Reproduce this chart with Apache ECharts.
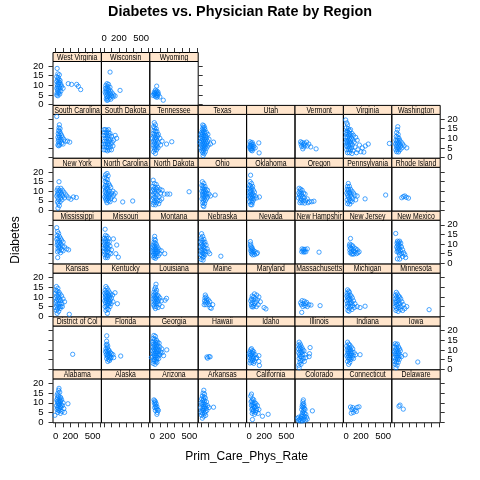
<!DOCTYPE html>
<html>
<head>
<meta charset="utf-8">
<title>Diabetes vs. Physician Rate by Region</title>
<script src="https://cdn.jsdelivr.net/npm/echarts@6/dist/echarts.min.js"></script>
<style>
  html, body { margin: 0; padding: 0; background: #fff; }
  #main { width: 480px; height: 480px; }
</style>
</head>
<body>
<div id="main"></div>
<script>
// panel order: alphabetical, filled left to right from the bottom row up
var stateNames = ['Alabama', 'Alaska', 'Arizona', 'Arkansas', 'California', 'Colorado', 'Connecticut', 'Delaware',
    'District of Columbia', 'Florida', 'Georgia', 'Hawaii', 'Idaho', 'Illinois', 'Indiana', 'Iowa',
    'Kansas', 'Kentucky', 'Louisiana', 'Maine', 'Maryland', 'Massachusetts', 'Michigan', 'Minnesota',
    'Mississippi', 'Missouri', 'Montana', 'Nebraska', 'Nevada', 'New Hampshire', 'New Jersey', 'New Mexico',
    'New York', 'North Carolina', 'North Dakota', 'Ohio', 'Oklahoma', 'Oregon', 'Pennsylvania', 'Rhode Island',
    'South Carolina', 'South Dakota', 'Tennessee', 'Texas', 'Utah', 'Vermont', 'Virginia', 'Washington',
    'West Virginia', 'Wisconsin', 'Wyoming'];

// [Prim_Care_Phys_Rate, Diabetes] per county
var AL = [[45,17.5],[40,16.5],[30,15],[55,15.5],[20,14],[38,13.5],[60,13],[25,12.5],[48,12],[70,12.5],[15,11.5],[35,11],[58,11],[80,11.5],[22,10.5],[42,10],[65,10.5],[100,10],[30,9.5],[50,9],[75,9],[166,9.5],[12,8.5],[38,8.5],[60,8],[90,8.5],[25,7.5],[45,7],[70,7.5],[110,7],[18,6.5],[35,6],[55,6],[85,5.5],[28,5],[-10,3.5],[65,4.5],[120,5]];
var AK = [];
var AZ = [[20,11.5],[30,11],[25,10],[40,10.5],[35,9],[50,9.5],[45,8],[30,7.5],[60,8],[55,7],[70,6.5],[40,6],[80,6],[65,5],[60,4]];
var AR = [[40,16.5],[30,15],[50,14.5],[20,13.5],[45,13],[10,12],[35,12],[60,12.5],[25,11],[50,11],[75,10.5],[5,10],[30,10],[45,9.5],[65,9],[15,9],[90,8.5],[35,8],[55,8],[0,7.5],[25,7],[45,7],[70,7],[171,7.7],[110,7.5],[15,6],[35,6],[60,5.5],[80,6],[5,5],[25,4.5],[50,4.5],[10,3.5],[40,3],[20,2],[65,3.5]];
var CA = [[30,14.5],[20,13.5],[45,12],[35,11],[60,11.5],[25,10.5],[50,10],[75,10],[40,9],[65,9],[90,9.5],[30,8.5],[55,8],[80,8],[110,8.5],[45,7],[70,7.5],[100,7],[35,6.5],[60,6],[130,6.5],[50,5.5],[85,5],[40,4.5],[120,4.5],[70,4],[178,3],[255,4],[43,1.3],[95,6]];
var CO = [[77,11.5],[70,10.5],[80,9.5],[65,9],[85,8.5],[60,8],[75,7.5],[90,7],[55,6.5],[80,6],[100,6.5],[199,5.8],[70,5],[90,4.5],[60,4],[110,4],[75,3.5],[95,3],[50,3],[120,2.5],[0,2],[15,2.5],[30,1.5],[45,2],[60,1],[85,1.5],[105,1],[130,1.5],[10,0.8],[40,0.5],[70,0.6],[20,1.2]];
var CT = [[60,7.8],[90,7.5],[150,7.6],[175,7.9],[80,6.5],[120,6.2],[100,5],[70,4.6],[140,5.5]];
var DE = [[61,8.2],[75,8.8],[119,6.7]];
var DC = [[230,7.7]];
var FL = [[36,17.3],[35,14.5],[40,13],[30,12.5],[50,12],[45,11],[25,10.5],[60,10],[35,9.5],[70,9.5],[20,9],[50,9],[85,8.5],[40,8],[65,8],[100,8],[30,7.5],[55,7],[80,7],[120,7.5],[45,6.5],[70,6],[95,6],[225,6.8],[35,5.5],[60,5],[85,5.5],[50,4],[75,4.5],[130,6]];
var GA = [[20,17.5],[40,17],[10,16],[30,15.5],[55,15],[0,14],[20,14.5],[45,14],[70,14],[10,13],[35,13],[60,13],[90,13.5],[25,12],[50,12],[75,12],[5,11.5],[40,11],[65,11],[100,11.5],[15,10.5],[30,10],[55,10],[85,10],[125,10.5],[0,9.5],[20,9],[45,9],[70,9],[110,9],[10,8],[35,8],[60,8],[90,8],[130,8.5],[25,7],[50,7],[75,7],[100,7.5],[5,6.5],[40,6],[65,6],[15,5],[30,5],[55,5],[85,5.5],[20,4],[45,4],[10,3],[35,2.5],[60,3.5],[-15,6],[193,10],[150,7]];
var HI = [[81,6.3],[110,6.5],[125,6.4],[90,5.7]];
var ID = [[30,10.6],[20,10],[45,9.5],[10,9],[35,8.5],[60,9],[0,8],[25,7.5],[50,8],[80,7.5],[130,7],[15,7],[40,6.5],[65,6.5],[5,6],[30,5.5],[55,5.5],[90,5.5],[20,4.5],[45,4.5],[70,4],[130,4],[35,3.5],[60,3],[10,3.2],[137,1.9],[100,6]];
var IL = [[20,14],[35,13],[15,12.5],[45,12],[25,11.5],[60,11],[168,11.2],[10,10.5],[40,10.5],[70,10],[30,9.5],[55,9],[85,9.5],[15,8.5],[45,8.5],[160,8],[25,7.5],[65,7.5],[100,7.5],[35,6.5],[50,6.5],[155,6.5],[20,5.5],[75,5.5],[110,6],[40,4.5],[60,4.5],[30,3.5],[90,4],[15,2],[45,2.5],[20,0.7]];
var IN = [[20,14],[35,13],[10,12],[50,12.5],[25,11],[45,11],[70,11.5],[15,10],[40,10],[60,10],[90,10.5],[30,9],[55,9],[80,9],[20,8],[45,8],[70,8],[110,8.5],[10,7],[35,7],[60,7],[95,7],[130,7.5],[25,6],[50,6],[80,6],[40,5],[65,5],[100,5.5],[20,4],[50,3.5],[35,2.5],[189,7.5]];
var IA = [[10,13.2],[25,12.5],[40,13],[5,11.5],[30,11],[55,11.5],[15,10],[45,10],[70,10.5],[0,9],[25,9],[50,9],[80,9.5],[10,8],[35,8],[60,8],[144,7.4],[20,7],[45,7],[75,7],[0,6],[30,6],[55,6],[95,6.5],[15,5],[40,5],[65,5],[5,4],[25,3.5],[50,3.5],[10,2.5],[35,2],[20,0.7],[315,3.7]];
var KS = [[10,15.4],[30,14.5],[5,13.5],[20,13],[45,12.5],[0,12],[35,11.5],[60,11.5],[15,10.5],[40,10],[80,10.5],[0,9.5],[25,9],[55,9],[100,9],[10,8],[40,8],[70,8],[120,7.5],[5,7],[30,6.5],[55,6.5],[85,6.5],[15,5.5],[45,5],[70,5],[0,4.5],[25,4],[60,4],[10,3],[40,2.5],[20,1.5],[184,1],[90,5]];
var KY = [[25,15.4],[40,14.5],[15,13.5],[55,13.5],[148,12.2],[30,12.5],[70,12.5],[10,12],[45,12],[90,11.5],[20,11],[60,11],[35,10.5],[80,10.5],[115,11],[15,10],[50,10],[70,9.5],[100,9.5],[25,9],[40,9],[60,8.5],[85,8.5],[10,8],[30,8],[50,7.5],[75,7.5],[120,7.5],[20,7],[45,6.5],[65,6.5],[180,6.5],[95,6.5],[35,5.5],[55,5.5],[15,5],[80,5],[40,4],[25,3],[60,3.5],[45,1.5]];
var LA = [[48,16.6],[40,15],[30,14],[55,13.5],[20,12.5],[45,12.5],[35,11.5],[65,11],[15,11],[50,10.5],[80,10.5],[25,10],[40,9.5],[60,9.5],[100,9.5],[190,9.3],[170,8.3],[10,9],[30,8.5],[55,8.5],[85,8.5],[120,8],[20,7.5],[45,7.5],[70,7.5],[35,6.5],[60,6.5],[15,6],[90,6],[25,5],[50,5],[40,4],[75,4.5],[130,5]];
var ME = [[60,11],[70,10],[55,9.5],[80,9],[50,8],[75,8],[100,8.5],[60,7],[90,7],[120,7.5],[45,6],[70,6],[110,6],[160,6],[125,4.5],[140,4.1]];
var MD = [[70,11.6],[100,11],[40,10.5],[60,10],[130,10],[30,9],[80,9],[50,8.5],[110,8.5],[20,8],[90,7.5],[150,7.5],[40,7],[70,6.5],[30,6],[120,6],[60,5.5],[95,5],[200,4.5],[225,3.8],[50,4.8],[35,5]];
var MA = [[60,8.1],[90,7.8],[40,7],[120,7.2],[75,6.5],[150,6],[50,6],[100,5.5],[180,5.8],[130,5],[70,5],[303,5.5],[55,2],[110,6.5]];
var MI = [[20,13.7],[35,13],[15,12],[45,12.5],[25,11],[55,11],[10,10.5],[40,10],[70,10.5],[20,9.5],[50,9],[85,9.5],[30,8.5],[60,8],[10,8],[100,8],[40,7],[75,7],[20,6.5],[55,6.5],[120,6.5],[35,5.5],[90,5.5],[15,5],[65,5],[257,5.2],[45,4],[110,4.5],[25,3],[80,3.5],[40,2.6],[189,4.5],[150,5]];
var MN = [[25,12.4],[40,11.5],[15,11],[55,10.5],[30,10],[70,10],[10,9],[45,9],[85,9],[20,8],[60,8],[35,7.5],[100,7.5],[15,7],[50,6.5],[75,6.5],[25,6],[120,6],[40,5.5],[90,5],[10,5],[60,4.5],[30,4],[80,3.5],[20,3],[50,2.5],[110,3],[468,3.4],[140,4],[166,5]];
var MS = [[14,18.5],[25,16.5],[40,15.5],[20,14.5],[50,14],[30,13],[65,13],[15,12.5],[45,12],[80,12],[25,11],[55,11],[100,11],[35,10],[70,10],[20,9.5],[50,9],[90,9],[40,8.5],[60,8],[120,8.5],[150,7.5],[175,7],[30,7.5],[80,7],[45,6.5],[100,6.5],[25,6],[65,5.5],[27,3]];
var MO = [[14,17.7],[20,14.5],[40,14],[5,13],[30,13],[60,13],[126,12.7],[15,12],[45,11.5],[0,11],[25,11],[70,11],[10,10],[40,10],[55,10],[171,9.5],[20,9],[35,8.5],[80,9],[0,8],[50,8],[15,7.5],[30,7],[65,7.5],[100,7],[5,6],[45,6],[25,5.5],[70,5.5],[159,5],[10,4.5],[35,4],[55,4],[20,3],[45,3],[193,3.2],[90,5]];
var MT = [[30,14],[25,12.5],[40,12],[20,11],[35,10.5],[50,10],[10,9.5],[30,9],[60,9],[0,8.5],[20,8],[45,8],[75,8],[10,7],[35,7],[55,7],[90,7],[0,6],[25,6],[45,6],[70,6],[120,6.5],[15,5],[40,5],[60,5],[100,5],[5,4],[30,4],[50,3.5],[80,4],[20,3],[40,2.6],[166,5]];
var NE = [[10,15.4],[25,14],[5,13],[40,12.5],[15,12],[0,11],[30,11],[55,11],[10,10],[45,10],[20,9],[70,9.5],[0,8.5],[35,8.5],[55,8],[15,7.5],[30,7],[85,7.5],[5,6.5],[45,6.5],[65,6],[20,5.5],[100,6],[35,5],[0,4.5],[55,4.5],[15,4],[40,3.5],[25,3],[5,2],[30,1.7],[270,3.7],[120,5]];
var NV = [[15,11.3],[20,10],[15,9],[30,8.5],[25,7.5],[45,7],[20,6.5],[60,6.5],[35,6],[80,6],[50,5.5],[30,5],[100,5],[70,4.5],[45,4.4],[110,5.5],[40,8]];
var NH = [[60,7.5],[80,7.2],[100,7.3],[130,7.5],[70,6.5],[90,6.3],[110,6],[55,6],[85,5.8],[289,5.8]];
var NJ = [[60,12.9],[50,10],[70,9.5],[45,9],[90,9],[60,8],[110,8],[80,7.5],[130,7.5],[50,7],[100,6.5],[150,7],[70,6],[120,6],[176,6],[55,5.5],[90,5],[140,5],[75,4.8],[160,5.5],[105,4.8]];
var NM = [[17,15.5],[40,11.5],[55,11],[70,11.5],[35,10.5],[60,10],[85,10.5],[45,9.5],[75,9],[30,8.5],[55,8.5],[95,8.5],[40,7.5],[65,7.5],[110,7],[50,6.5],[80,6.5],[35,6],[125,5.5],[60,5.5],[95,5],[140,4.5],[70,4.5],[151,3],[40,2.3],[70,2.2],[110,3.5]];
var NY = [[45,14.9],[30,11.5],[70,11.5],[20,10.5],[50,10.5],[90,10.5],[35,9.5],[65,9.5],[110,9.5],[25,8.5],[45,8.5],[80,8.5],[130,8.5],[15,7.5],[55,7.5],[95,7.5],[150,7.5],[30,6.5],[70,6.5],[120,6.5],[240,7],[279,6.7],[175,6.5],[206,5.8],[40,5.5],[85,5.5],[25,4.5],[60,4.5],[35,3.5],[50,2.5],[31,1.2]];
var NC = [[40,19.2],[20,18.5],[55,18],[10,17],[30,16.5],[45,16],[15,15],[35,14.5],[60,14],[20,13],[40,13],[75,13],[10,12],[30,11.5],[50,11.5],[90,12],[20,10.5],[45,10.5],[70,10],[120,10],[15,9.5],[35,9],[60,9],[100,9],[150,9],[25,8],[50,8],[80,8],[130,8],[10,7],[35,7],[65,7],[110,7],[20,6],[45,6],[90,6],[30,5],[60,5],[140,5.5],[40,4],[80,4.5],[252,4.4],[387,4.9]];
var ND = [[10,15.7],[25,14],[50,13.5],[5,12.5],[35,12],[70,12],[15,11],[55,11],[100,11],[0,10],[30,10],[80,10],[130,10.5],[20,9],[45,9],[110,9],[160,8.5],[5,8],[65,8],[200,8.5],[35,7],[90,7],[15,6.5],[50,6],[125,6],[0,5.5],[30,5],[70,5],[100,5],[20,4],[55,4],[10,3],[40,2.9],[85,3.5],[234,8.5],[495,9.7]];
var OH = [[20,14.9],[40,14],[15,13],[30,12.5],[55,12.5],[25,11.5],[45,11],[70,11],[15,10],[35,10],[60,10],[90,10.5],[25,9],[50,9],[80,9],[20,8],[40,8],[65,8],[110,8.5],[30,7],[55,7],[90,7],[130,7.5],[15,6],[45,6],[75,6],[35,5],[60,5],[25,4],[50,3.5],[30,2.5],[40,2],[193,8]];
var OK = [[18,18.3],[10,15],[30,14],[5,13],[20,12.5],[45,12.5],[0,11.5],[35,11.5],[15,10.5],[55,10.5],[25,10],[5,9.5],[40,9],[70,9.5],[15,8.5],[30,8],[55,8],[0,7.5],[20,7],[45,7],[80,7.5],[10,6.5],[35,6],[65,6],[100,6.5],[25,5],[50,5],[5,4.5],[40,4],[20,3],[35,2.9],[137,7]];
var OR = [[20,11.5],[40,11],[30,10],[60,10.5],[15,9],[45,9],[80,9],[25,8],[55,8],[100,8.5],[35,7],[70,7],[10,6.5],[50,6],[90,6.5],[130,6],[40,5],[75,5],[110,5],[160,4.5],[30,4],[60,4],[140,4],[190,4.5],[220,4.8],[95,3.8]];
var PA = [[30,14],[20,12.5],[45,12.5],[15,11],[35,11],[60,11],[25,10],[50,9.5],[80,10],[10,9],[40,9],[65,8.5],[100,9],[20,8],[55,7.5],[120,8],[30,7],[75,7],[150,7.5],[45,6],[90,6],[15,5.5],[60,5],[130,5.5],[35,4.5],[80,4.5],[20,3.5],[50,3.3],[257,6],[535,8]];
var RI = [[99,6.6],[120,7.2],[140,7.5],[160,6.8],[189,6.4]];
var SC = [[14,21.3],[50,17],[45,15.5],[60,15],[40,14],[55,13.5],[35,12.5],[65,12.5],[45,11.5],[80,11.5],[30,10.5],[55,10.5],[90,10.5],[40,9.5],[70,9.5],[110,9.5],[35,8.5],[60,8.5],[160,8.5],[190,8],[130,8.5],[45,7.5],[80,7.5],[30,6.5],[55,6.5],[100,7],[40,6.1]];
var SD = [[0,14.5],[20,14.5],[40,14],[60,14.5],[10,13],[35,12.5],[55,13],[80,12.5],[0,11.5],[25,11.5],[45,11],[70,11.5],[100,11],[150,11.5],[170,10],[15,10],[40,10],[60,9.5],[90,9.5],[130,9],[5,8.5],[30,8.5],[50,8],[75,8.5],[110,8],[0,7],[20,7],[45,7],[65,6.5],[95,7],[10,5.5],[35,5.5],[55,5],[85,5.5],[120,6],[0,4],[25,4],[45,3.5],[70,4],[100,4]];
var TN = [[25,18.1],[40,17],[15,16],[30,15.5],[50,15],[20,14],[40,13.5],[60,13.5],[10,12.5],[30,12],[55,12],[80,12],[20,11],[45,10.5],[70,11],[0,10],[30,9.5],[55,9.5],[100,10],[15,8.5],[40,8.5],[65,8.5],[130,8.5],[25,7.5],[50,7],[80,7.5],[10,6.5],[35,6],[60,6],[110,6.5],[20,5],[45,5],[75,5],[30,4],[55,4],[15,3],[40,2.1],[261,8.2],[190,7]];
var TX = [[25,16.9],[40,16.5],[30,15.5],[50,15.5],[20,14.5],[35,14],[55,14.5],[10,13],[30,13],[50,13],[75,13],[0,12],[20,12],[40,11.5],[65,11.5],[95,12],[10,11],[30,10.5],[55,10.5],[80,10.5],[0,10],[20,9.5],[45,9.5],[70,9.5],[110,9.5],[10,8.5],[35,8.5],[60,8.5],[90,8.5],[-15,8],[25,7.5],[50,7.5],[75,7.5],[5,7],[40,6.5],[65,6.5],[100,6.5],[15,6],[30,5.5],[55,5.5],[85,5.5],[0,5],[20,4.5],[45,4.5],[70,4.5],[10,3.5],[35,3.5],[60,3],[25,2.5],[45,2],[30,1],[171,8],[130,7]];
var UT = [[10,8.2],[25,7.5],[40,7.8],[129,7.6],[15,6.5],[30,6.5],[50,6.8],[5,5.5],[20,5.5],[40,5.5],[60,5.8],[15,4.5],[30,4.5],[50,4.5],[25,3.8],[40,3.5],[133,2.4],[80,5]];
var VT = [[40,8.2],[60,7.8],[90,7.5],[120,8],[45,7],[75,6.8],[100,6.5],[150,7],[55,5.8],[85,5.5],[130,6],[177,5.5],[70,4.5],[249,4.5]];
var VA = [[-5,19.5],[10,18],[20,17],[5,15.5],[30,15],[15,14],[45,14],[60,14.5],[0,13],[25,13],[50,12.5],[80,12.5],[10,12],[35,11.5],[65,11.5],[100,11.5],[0,10.5],[20,10.5],[45,10],[75,10],[130,10.5],[10,9],[30,9],[60,9],[90,9],[150,9],[0,8],[20,8],[45,8],[70,7.5],[110,8],[15,7],[35,6.5],[55,6.5],[85,6.5],[180,6.5],[5,6],[25,5.5],[45,5],[75,5],[120,5.5],[220,5],[10,4],[35,4],[60,4],[95,3.5],[160,4],[260,6],[300,7],[20,2.5],[45,2.5],[80,2.1],[140,2.5],[200,3],[240,2.8],[585,7.3]];
var WA = [[45,16],[40,14.5],[30,13],[50,12],[25,11],[45,10.5],[60,10],[20,9],[40,9],[70,9],[30,8],[55,8],[90,8],[15,7],[40,7],[70,7],[110,7],[25,6],[50,6],[85,6],[130,6],[35,5],[60,5],[100,5],[20,4],[45,4],[75,4],[30,3],[55,2.9],[166,5]];
var WV = [[20,18.8],[30,16],[50,15.5],[15,14.5],[35,14],[25,13],[45,13],[60,12.5],[15,12],[35,11.5],[55,11.5],[20,10.5],[40,10.5],[70,10.5],[170,10.9],[215,10.5],[284,10.5],[25,9.5],[50,9.5],[80,9.5],[306,9.5],[15,8.5],[35,8.5],[60,8.5],[100,8.5],[338,7.8],[25,7.5],[45,7],[70,7],[20,6],[40,6],[15,5],[30,4.6],[55,5.5]];
var WI = [[81,16.9],[40,10.9],[60,10.5],[25,10],[50,9.5],[80,9],[20,8.5],[40,8.5],[65,8],[30,7.5],[55,7.5],[90,7],[216,7.4],[15,6.5],[40,6.5],[70,6.5],[110,6],[25,5.5],[50,5.5],[85,5.5],[130,5],[35,4.5],[60,4.5],[100,4.5],[149,4.5],[45,3.5],[75,3.5],[120,4],[30,3],[55,2.5],[90,2.8],[40,2.2]];
var WY = [[57,9.6],[40,7.5],[60,7],[25,6.5],[50,6.5],[75,6.5],[35,6],[65,5.8],[20,5.5],[45,5.5],[80,5.5],[30,5],[55,4.8],[5,4.8],[70,4.5],[40,4.2],[60,3.8],[100,4],[146,2.3]];

var stateData = [AL, AK, AZ, AR, CA, CO, CT, DE, DC, FL, GA, HI, ID, IL, IN, IA,
    KS, KY, LA, ME, MD, MA, MI, MN, MS, MO, MT, NE, NV, NH, NJ, NM,
    NY, NC, ND, OH, OK, OR, PA, RI, SC, SD, TN, TX, UT, VT, VA, WA, WV, WI, WY];

var xTicks = [0, 100, 200, 300, 400, 500, 600];
var xTickLabels = [0, 200, 500];
var yTicks = [0, 5, 10, 15, 20];
// y labels go on two stacked axes so none of them is dropped for overlap
var yLabelsA = [0, 10, 20];
var yLabelsB = [5, 15];

// panel layout (lattice style)
var ncol = 8, nrow = 7;
var plotLeft = 53, panelW = 48.4;
var plotTop = 52.5, rowH = 52.9, stripH = 9;
var xMin = -36, xMax = 618, yMin = -0.4, yMax = 22.4;
var font = '"Liberation Sans", Arial, Helvetica, sans-serif';
var stripScale = 0.8;   // strip labels are drawn condensed

var grids = [], xAxes = [], yAxes = [], series = [], graphics = [];

function xAxisFor(gi, pos, showTick, showLabel, offset) {
    return {
        gridIndex: gi, type: 'value', position: pos, offset: offset || 0,
        min: xMin, max: xMax,
        axisLine: { show: false, onZero: false },
        splitLine: { show: false },
        axisTick: { show: showTick, inside: false, length: 4.5, customValues: xTicks,
            lineStyle: { color: '#333', width: 1 } },
        axisLabel: { show: showLabel, customValues: xTickLabels, margin: 9,
            showMinLabel: true, showMaxLabel: true,
            fontSize: 9.5, color: '#000', fontFamily: font }
    };
}

function yAxisFor(gi, pos, showTick, labels) {
    return {
        gridIndex: gi, type: 'value', position: pos,
        min: yMin, max: yMax,
        axisLine: { show: false, onZero: false },
        splitLine: { show: false },
        axisTick: { show: showTick, inside: false, length: 4.5, customValues: yTicks,
            lineStyle: { color: '#333', width: 1 } },
        axisLabel: { show: !!labels, customValues: labels || yTicks,
            margin: pos === 'left' ? 9.5 : 7,
            showMinLabel: true, showMaxLabel: true,
            fontSize: 9.5, color: '#000', fontFamily: font }
    };
}

function addYSide(gi, pos, withLabels) {
    if (withLabels) {
        yAxes.push(yAxisFor(gi, pos, true, yLabelsA));
        yAxes.push(yAxisFor(gi, pos, false, yLabelsB));
    } else {
        yAxes.push(yAxisFor(gi, pos, true, null));
    }
}

for (var i = 0; i < stateNames.length; i++) {
    var col = i % ncol;
    var rb = Math.floor(i / ncol);        // row counted from the bottom
    var r = nrow - 1 - rb;                 // row counted from the top
    var left = plotLeft + col * panelW;
    var stripTop = plotTop + r * rowH;

    grids.push({
        left: left, top: stripTop + stripH, width: panelW, height: rowH - stripH,
        show: true, borderColor: '#000', borderWidth: 1, backgroundColor: 'transparent'
    });

    var xi = xAxes.length;
    xAxes.push(xAxisFor(i, 'bottom', rb === 0, rb === 0 && col % 2 === 0));
    if (rb === nrow - 1) {
        // top axis sits above the strip
        xAxes.push(xAxisFor(i, 'top', true, col % 2 === 1, stripH));
    }

    var yi = yAxes.length;
    if (col === 0) {
        addYSide(i, 'left', rb % 2 === 0);
    } else {
        yAxes.push({ gridIndex: i, type: 'value', min: yMin, max: yMax, show: false });
    }
    if (col === ncol - 1 || i === stateNames.length - 1) {
        addYSide(i, 'right', rb % 2 === 1);
    }

    series.push({
        name: stateNames[i],
        type: 'scatter',
        xAxisIndex: xi,
        yAxisIndex: yi,
        data: stateData[i],
        symbol: 'circle',
        symbolSize: 4.3,
        itemStyle: { color: 'rgba(0,0,0,0)', borderColor: '#0080ff', borderWidth: 0.9 },
        emphasis: { disabled: true },
        silent: true
    });

    // strip with the state name
    graphics.push({
        type: 'rect', silent: true,
        shape: { x: left, y: stripTop, width: panelW, height: stripH },
        style: { fill: '#ffe5cc', stroke: '#000', lineWidth: 1 }
    });
    graphics.push({
        type: 'text', silent: true,
        x: left + panelW / 2, y: stripTop + stripH / 2 + 0.5, scaleX: stripScale,
        style: {
            text: stateNames[i], x: 0, y: 0,
            align: 'center', verticalAlign: 'middle',
            font: '8.6px ' + font, fill: '#000',
            width: (panelW - 1) / stripScale, overflow: 'truncate', ellipsis: ''
        }
    });
}

graphics.push({
    type: 'text', silent: true,
    style: { text: 'Diabetes vs. Physician Rate by Region', x: 240, y: 12.5,
        align: 'center', verticalAlign: 'middle', font: 'bold 14.4px ' + font, fill: '#000' }
});
graphics.push({
    type: 'text', silent: true,
    style: { text: 'Prim_Care_Phys_Rate', x: plotLeft + ncol * panelW / 2, y: 457,
        align: 'center', verticalAlign: 'middle', font: '12px ' + font, fill: '#000' }
});
graphics.push({
    type: 'text', silent: true, x: 16, y: 240, rotation: Math.PI / 2,
    style: { text: 'Diabetes', x: 0, y: 0,
        align: 'center', verticalAlign: 'middle', font: '12px ' + font, fill: '#000' }
});

var chart = echarts.init(document.getElementById('main'));
chart.setOption({
    animation: false,
    backgroundColor: '#fff',
    grid: grids,
    xAxis: xAxes,
    yAxis: yAxes,
    series: series,
    graphic: graphics
});
</script>
</body>
</html>
